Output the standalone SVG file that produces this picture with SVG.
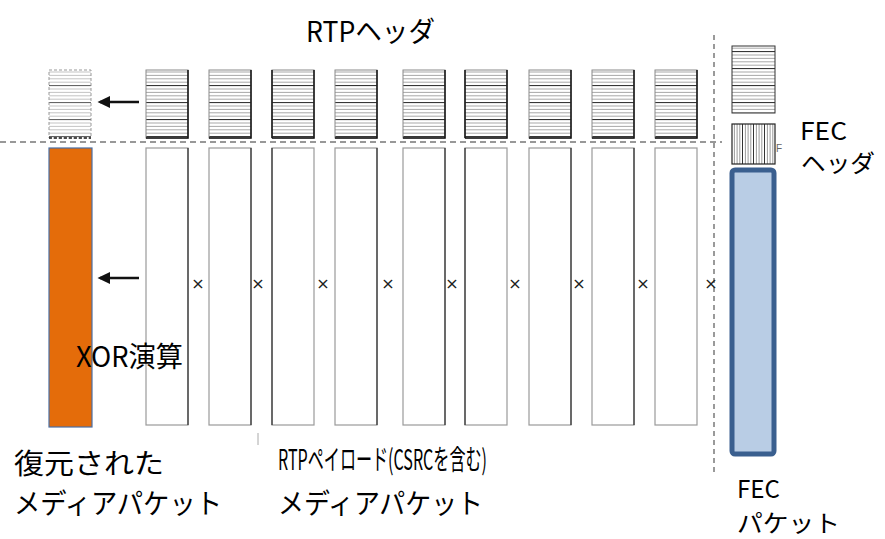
<svg xmlns="http://www.w3.org/2000/svg" width="885" height="539" viewBox="0 0 885 539">
<style>
.t{font-family:"Noto Sans CJK JP","Liberation Sans",sans-serif;font-size:28px;fill:#000}
.s{font-size:24px}
.x{font-family:"DejaVu Sans",sans-serif;font-size:16px;fill:#222;text-anchor:middle}
.hdr{fill:url(#hs);stroke:#8a8a8a;stroke-width:1}
.edge{stroke:#111;fill:none}
.pay{fill:#fff;stroke:#9a9a9a;stroke-width:1.2}
.arrow{stroke:#111;stroke-width:2.5;fill:none;marker-end:url(#ah)}
</style>
<defs>
<pattern id="hs" patternUnits="userSpaceOnUse" width="6" height="17" y="71">
<rect width="6" height="17" fill="#fff"/>
<line x1="0" y1="1" x2="6" y2="1" stroke="#a8a8a8" stroke-width="1"/>
<line x1="0" y1="4.4" x2="6" y2="4.4" stroke="#a8a8a8" stroke-width="1"/>
<line x1="0" y1="7.8" x2="6" y2="7.8" stroke="#a8a8a8" stroke-width="1"/>
<line x1="0" y1="11.2" x2="6" y2="11.2" stroke="#a8a8a8" stroke-width="1"/>
<line x1="0" y1="14.6" x2="6" y2="14.6" stroke="#222" stroke-width="1"/>
</pattern>
<pattern id="hsl" patternUnits="userSpaceOnUse" width="6" height="17" y="71">
<rect width="6" height="17" fill="#fff"/>
<line x1="0" y1="1" x2="6" y2="1" stroke="#c4c4c4" stroke-width="1"/>
<line x1="0" y1="4.4" x2="6" y2="4.4" stroke="#c4c4c4" stroke-width="1"/>
<line x1="0" y1="7.8" x2="6" y2="7.8" stroke="#c4c4c4" stroke-width="1"/>
<line x1="0" y1="11.2" x2="6" y2="11.2" stroke="#c4c4c4" stroke-width="1"/>
<line x1="0" y1="14.6" x2="6" y2="14.6" stroke="#555" stroke-width="1"/>
</pattern>
<pattern id="vs" patternUnits="userSpaceOnUse" width="11" height="6" x="733">
<rect width="11" height="6" fill="#fff"/>
<line x1="1.4" y1="0" x2="1.4" y2="6" stroke="#9a9a9a" stroke-width="1"/>
<line x1="4.1" y1="0" x2="4.1" y2="6" stroke="#9a9a9a" stroke-width="1"/>
<line x1="6.8" y1="0" x2="6.8" y2="6" stroke="#9a9a9a" stroke-width="1"/>
<line x1="9.5" y1="0" x2="9.5" y2="6" stroke="#333" stroke-width="1"/>
</pattern>
<marker id="ah" markerWidth="6" markerHeight="6" refX="4" refY="3" orient="auto" markerUnits="strokeWidth">
<path d="M0,0.6 L5,3 L0,5.4 z" fill="#111"/>
</marker>
</defs>
<rect width="885" height="539" fill="#fff"/>

<g id="separators">
<line x1="0" y1="142" x2="722" y2="142" stroke="#777" stroke-width="1.5" stroke-dasharray="6 4"/>
<line x1="714" y1="35" x2="714" y2="476" stroke="#9a9a9a" stroke-width="2" stroke-dasharray="5 4"/>
<line x1="258" y1="433" x2="258" y2="445" stroke="#aaa" stroke-width="1"/>
</g>

<g id="recovered">
<rect x="49" y="70" width="42" height="68" fill="url(#hsl)" stroke="#999" stroke-width="1" stroke-dasharray="3 2"/>
<line x1="49" y1="138" x2="91" y2="138" stroke="#222" stroke-width="1.5" stroke-dasharray="3 2"/>
<rect x="49" y="148" width="43" height="279" fill="#E46C0A" stroke="#4a6fa5" stroke-width="1.2"/>
</g>

<g id="media-packets">
<g id="mp1"><rect class="hdr" x="146" y="70" width="42" height="68"/><path class="edge" d="M188,70 V138 H146" stroke-width="1.5"/><rect class="pay" x="146" y="148" width="42" height="277"/><line class="edge" x1="188" y1="148" x2="188" y2="425" stroke-width="1"/></g>
<g id="mp2"><rect class="hdr" x="209" y="70" width="42" height="68"/><path class="edge" d="M251,70 V138 H209" stroke-width="1.5"/><rect class="pay" x="209" y="148" width="42" height="277"/><line class="edge" x1="251" y1="148" x2="251" y2="425" stroke-width="1"/></g>
<g id="mp3"><rect class="hdr" x="272" y="70" width="42" height="68"/><path class="edge" d="M272,138 V70 M314,70 V138 H272" stroke-width="1.5"/><rect class="pay" x="272" y="148" width="42" height="277"/><line class="edge" x1="272" y1="148" x2="272" y2="425" stroke-width="1"/></g>
<g id="mp4"><rect class="hdr" x="335" y="70" width="42" height="68"/><path class="edge" d="M377,70 V138 H335" stroke-width="1.5"/><rect class="pay" x="335" y="148" width="42" height="277"/><line class="edge" x1="377" y1="148" x2="377" y2="425" stroke-width="1"/></g>
<g id="mp5"><rect class="hdr" x="403" y="70" width="42" height="68"/><path class="edge" d="M445,70 V138 H403" stroke-width="1.5"/><rect class="pay" x="403" y="148" width="42" height="277"/><line class="edge" x1="445" y1="148" x2="445" y2="425" stroke-width="1"/></g>
<g id="mp6"><rect class="hdr" x="465" y="70" width="42" height="68"/><path class="edge" d="M465,138 V70 M507,70 V138 H465" stroke-width="1.5"/><rect class="pay" x="465" y="148" width="42" height="277"/><line class="edge" x1="465" y1="148" x2="465" y2="425" stroke-width="1"/></g>
<g id="mp7"><rect class="hdr" x="529" y="70" width="42" height="68"/><path class="edge" d="M571,70 V138 H529" stroke-width="1.5"/><rect class="pay" x="529" y="148" width="42" height="277"/><line class="edge" x1="571" y1="148" x2="571" y2="425" stroke-width="1"/></g>
<g id="mp8"><rect class="hdr" x="592" y="70" width="42" height="68"/><path class="edge" d="M634,70 V138 H592" stroke-width="1.5"/><rect class="pay" x="592" y="148" width="42" height="277"/><line class="edge" x1="634" y1="148" x2="634" y2="425" stroke-width="1"/></g>
<g id="mp9"><rect class="hdr" x="655" y="70" width="42" height="68"/><path class="edge" d="M697,70 V138 H655" stroke-width="1.5"/><rect class="pay" x="655" y="148" width="42" height="277"/></g>
</g>

<g id="xor-marks">
<text class="x" x="198" y="289">×</text>
<text class="x" x="258" y="289">×</text>
<text class="x" x="323" y="289">×</text>
<text class="x" x="388" y="289">×</text>
<text class="x" x="452" y="289">×</text>
<text class="x" x="515" y="289">×</text>
<text class="x" x="579" y="289">×</text>
<text class="x" x="643" y="289">×</text>
<text class="x" x="711" y="289">×</text>
</g>

<g id="fec-packet">
<rect x="732" y="46" width="43" height="67" fill="url(#hs)" stroke="#333" stroke-width="1"/>
<rect x="732" y="124" width="43" height="40" fill="url(#vs)" stroke="#222" stroke-width="1.2"/>
<text x="776" y="152" font-family="Liberation Sans,sans-serif" font-size="10" fill="#666">F</text>
<rect x="732" y="170" width="42" height="284" rx="3" fill="#B9CDE5" stroke="#3A5F8F" stroke-width="5"/>
</g>

<g id="connectors">
<line class="arrow" x1="139" y1="102" x2="100" y2="102"/>
<line class="arrow" x1="139" y1="278" x2="100" y2="278"/>
</g>

<g id="labels">
<text class="t" x="306" y="42" textLength="129" lengthAdjust="spacingAndGlyphs">RTPヘッダ</text>
<text class="t s"><tspan x="800" y="140" textLength="47" lengthAdjust="spacingAndGlyphs">FEC</tspan><tspan x="801" y="172" textLength="74" lengthAdjust="spacingAndGlyphs">ヘッダ</tspan></text>
<text class="t" x="76" y="367" textLength="107" lengthAdjust="spacingAndGlyphs">XOR演算</text>
<text class="t"><tspan x="14" y="474" textLength="150" lengthAdjust="spacingAndGlyphs">復元された</tspan><tspan x="14" y="514" textLength="208" lengthAdjust="spacingAndGlyphs">メディアパケット</tspan></text>
<text class="t"><tspan x="278" y="470" textLength="209" lengthAdjust="spacingAndGlyphs">RTPペイロード(CSRCを含む)</tspan><tspan x="278" y="514" textLength="205" lengthAdjust="spacingAndGlyphs">メディアパケット</tspan></text>
<text class="t s"><tspan x="737" y="498" textLength="43" lengthAdjust="spacingAndGlyphs">FEC</tspan><tspan x="737" y="532" textLength="103" lengthAdjust="spacingAndGlyphs">パケット</tspan></text>
</g>
</svg>
